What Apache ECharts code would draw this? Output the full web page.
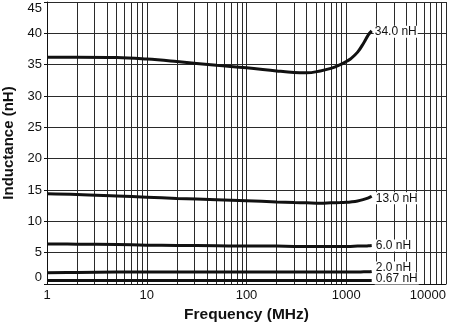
<!DOCTYPE html>
<html>
<head>
<meta charset="utf-8">
<script src="https://cdn.jsdelivr.net/npm/echarts@6/dist/echarts.min.js"></script>
<style>
  html, body { margin: 0; padding: 0; background: #fff; }
  #chart { width: 450px; height: 326px; }
</style>
</head>
<body>
<div id="chart"></div>
<script>
// Inductance versus frequency for five inductor values (log frequency axis)
const freqMHz = [1, 2, 5, 10, 20, 50, 100, 200, 300, 400, 550, 700, 870, 1000, 1100, 1300, 1500, 1670, 1800];

const curveLabels = ['34.0 nH', '13.0 nH', '6.0 nH', '2.0 nH', '0.67 nH'];

const ind34 = [36.2, 36.2, 36.15, 35.9, 35.5, 34.9, 34.5, 34.0, 33.75, 33.7, 34.0, 34.4, 35.0, 35.5, 35.9, 37.0, 38.5, 39.8, 40.4];
const ind13 = [14.4, 14.3, 14.05, 13.85, 13.65, 13.45, 13.3, 13.1, 13.0, 12.95, 12.9, 12.95, 13.0, 13.05, 13.1, 13.25, 13.5, 13.75, 14.0];
const ind6  = [6.4, 6.35, 6.3, 6.2, 6.15, 6.1, 6.05, 6.05, 6.0, 6.0, 6.0, 6.0, 6.0, 6.0, 6.0, 6.05, 6.05, 6.1, 6.15];
const ind2  = [1.8, 1.85, 1.9, 1.9, 1.9, 1.9, 1.9, 1.9, 1.9, 1.9, 1.9, 1.9, 1.9, 1.9, 1.9, 1.9, 1.95, 1.95, 2.0];
const ind067 = [0.55, 0.55, 0.55, 0.55, 0.55, 0.55, 0.55, 0.55, 0.55, 0.55, 0.55, 0.55, 0.55, 0.55, 0.55, 0.55, 0.55, 0.55, 0.55];

const curveValues = [ind34, ind13, ind6, ind2, ind067];
const labelOffsets = [[-1, 1], [0, 2], [0, 0], [0, -4], [0, -2]];

// Minor log gridlines: 2..9 in every decade
const minorGrid = [];
[1, 10, 100, 1000].forEach(d => { for (let m = 2; m <= 9; m++) minorGrid.push(m * d); });

const FONT = '"Liberation Sans", Arial, Helvetica, sans-serif';
const GRID_COLOR = '#2a2a2a';

const chart = echarts.init(document.getElementById('chart'), null, { renderer: 'canvas' });

const series = curveValues.map((vals, i) => ({
  type: 'line',
  name: curveLabels[i],
  data: freqMHz.map((f, j) => [f, vals[j]]),
  smooth: 0.4,
  showSymbol: false,
  lineStyle: { color: '#111', width: 3 },
  z: 5,
  endLabel: {
    show: true,
    formatter: curveLabels[i],
    color: '#111',
    fontFamily: FONT,
    fontSize: 12,
    backgroundColor: '#fff',
    padding: [0, 1, 0, 1],
    distance: 3,
    offset: labelOffsets[i]
  }
}));

// Minor vertical gridlines drawn on the x axis scale
series.push({
  type: 'line',
  data: [],
  silent: true,
  z: 1,
  markLine: {
    silent: true,
    symbol: 'none',
    label: { show: false },
    lineStyle: { color: GRID_COLOR, width: 1, type: 'solid' },
    data: minorGrid.map(v => ({ xAxis: v }))
  }
});

chart.setOption({
  animation: false,
  backgroundColor: '#fff',
  grid: { left: 47, right: 4, top: 2, bottom: 42, containLabel: false, outerBoundsMode: 'none' },
  xAxis: {
    type: 'log',
    logBase: 10,
    min: 1,
    max: 10000,
    name: 'Frequency (MHz)',
    nameLocation: 'middle',
    nameGap: 23,
    nameTextStyle: { fontFamily: FONT, fontWeight: 'bold', fontSize: 15.5, color: '#111' },
    axisLine: { show: true, lineStyle: { color: '#111', width: 1 } },
    axisTick: { show: false },
    axisLabel: {
      fontFamily: FONT, fontSize: 13, color: '#111', margin: 5,
      alignMaxLabel: 'right',
      formatter: v => String(Math.round(v))
    },
    splitLine: { show: true, lineStyle: { color: GRID_COLOR, width: 1 } }
  },
  yAxis: {
    type: 'value',
    min: 0,
    max: 45,
    interval: 5,
    name: 'Inductance (nH)',
    nameLocation: 'middle',
    nameGap: 27,
    nameTextStyle: { fontFamily: FONT, fontWeight: 'bold', fontSize: 15, color: '#111' },
    axisLine: { show: true, lineStyle: { color: '#111', width: 1 } },
    axisTick: { show: true, length: 3, lineStyle: { color: '#111' } },
    axisLabel: {
      fontFamily: FONT, fontSize: 13, color: '#111', margin: 5,
      verticalAlignMaxLabel: 'top',
      verticalAlignMinLabel: 'bottom'
    },
    splitLine: { show: true, lineStyle: { color: GRID_COLOR, width: 1 } }
  },
  series: series
});
</script>
</body>
</html>
